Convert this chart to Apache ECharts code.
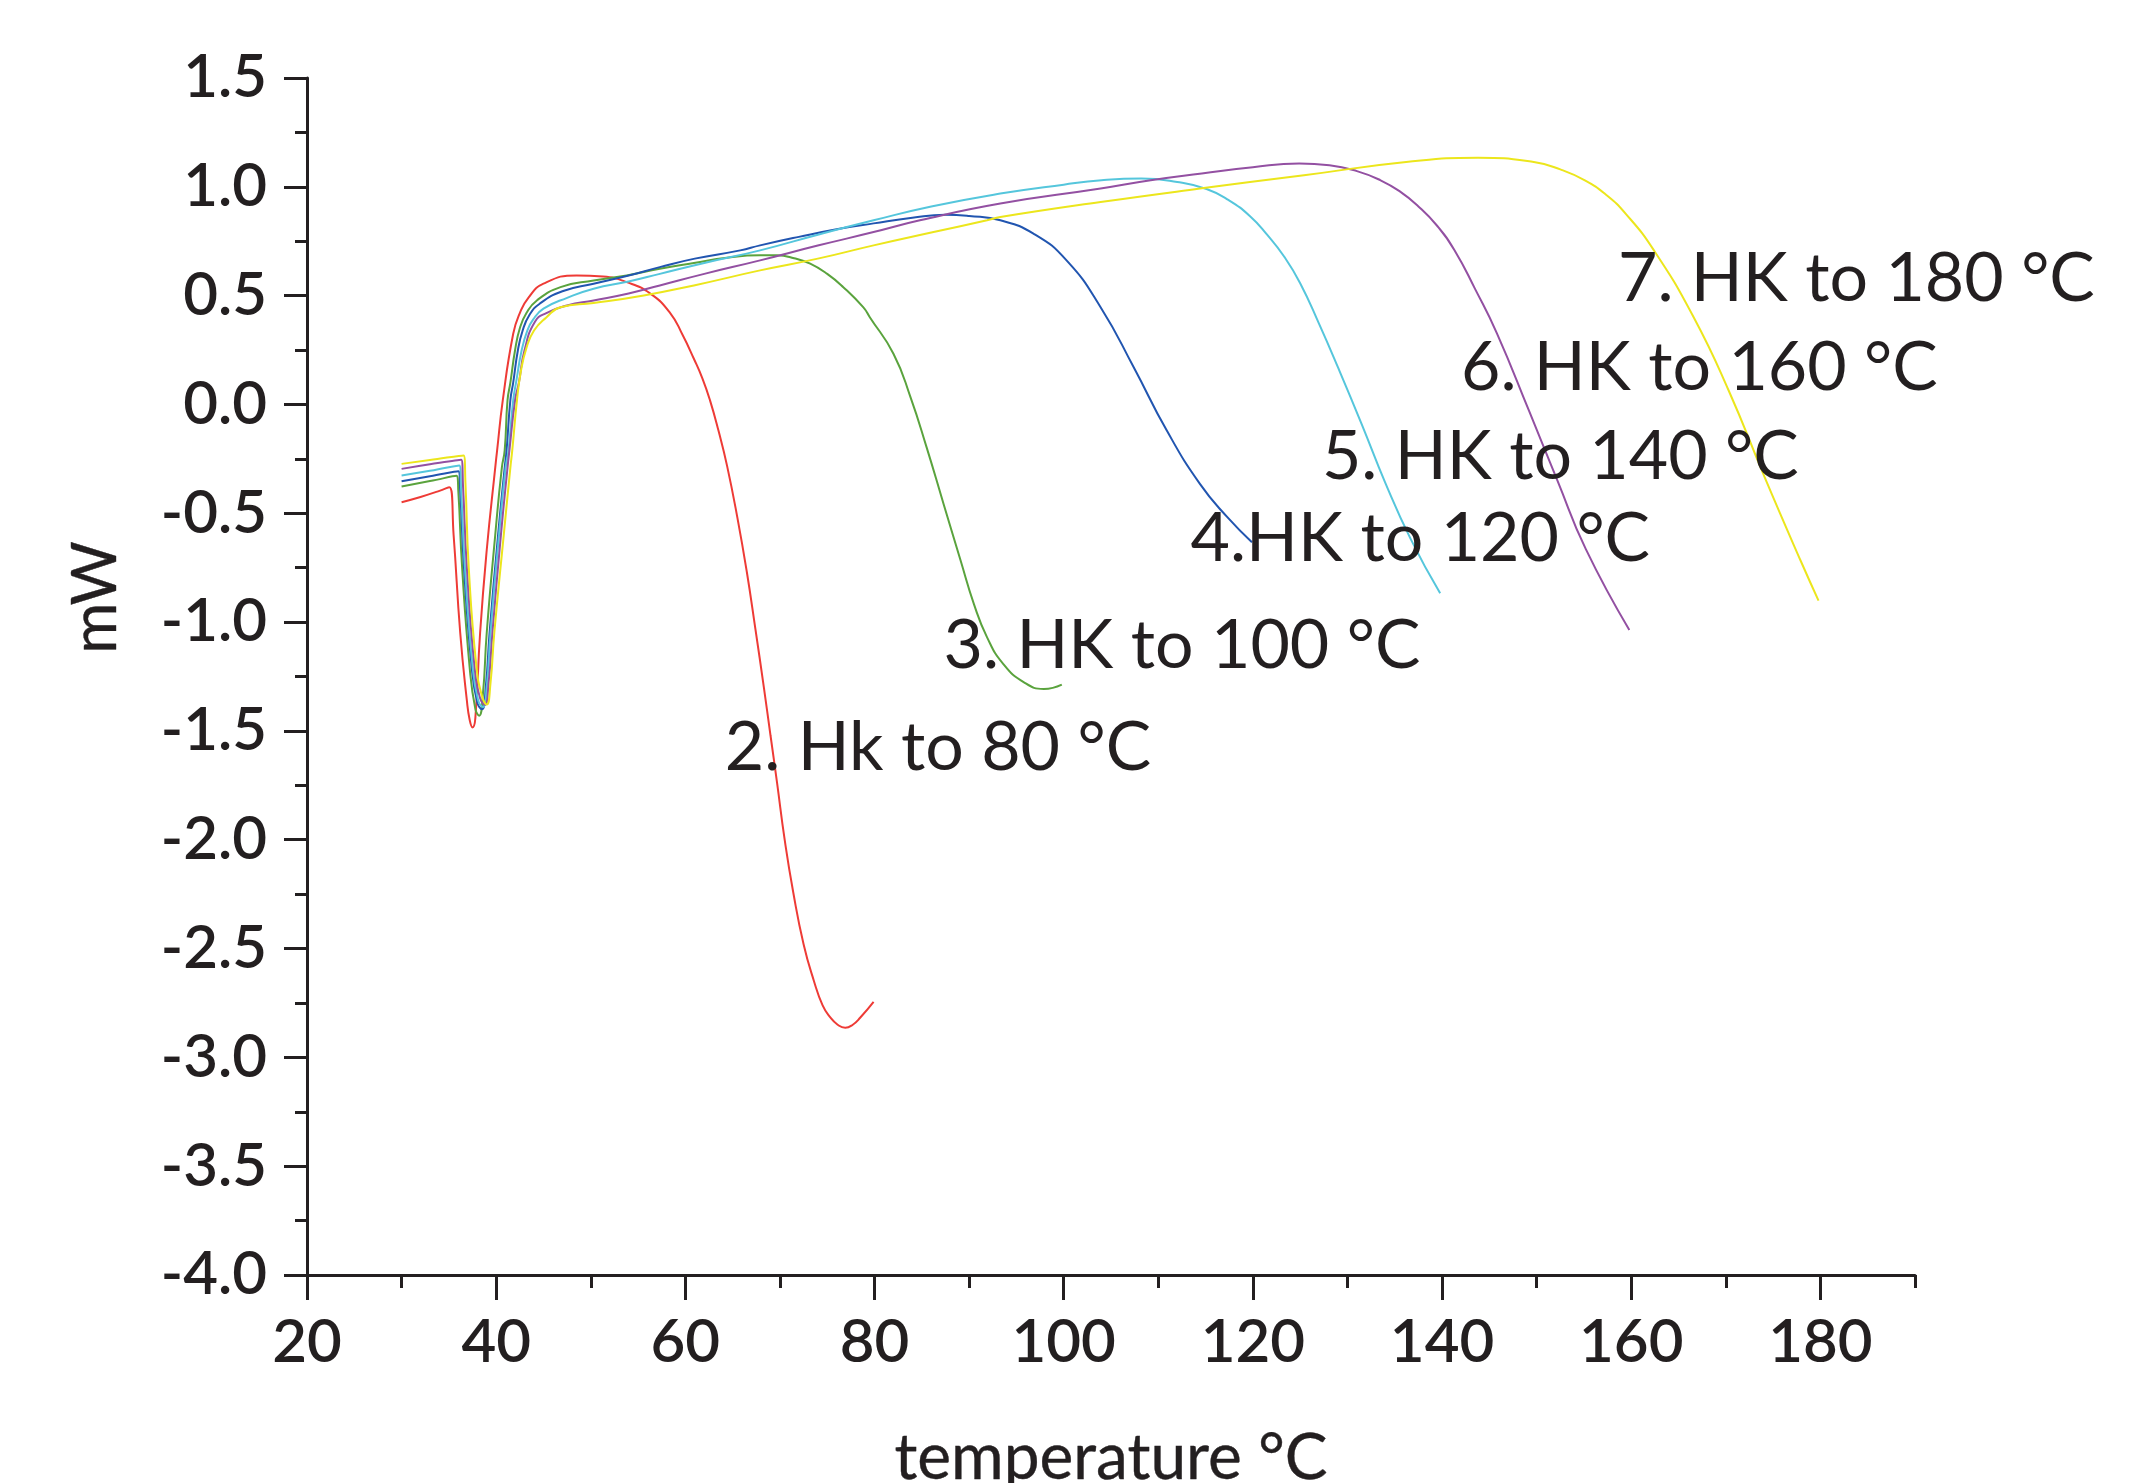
<!DOCTYPE html>
<html><head><meta charset="utf-8">
<script src="https://cdn.jsdelivr.net/npm/echarts@6/dist/echarts.min.js"></script>
<style>html,body{margin:0;padding:0;background:#fff}#c{width:2142px;height:1483px}</style>
</head><body><div id="c"></div>
<script>
// ---- data (temperature °C, mW) ----
const run80 = [[30,-0.449],[32,-0.425],[34,-0.397],[35.05,-0.38],[35.5,-0.6],[36.2,-1.05],[36.9,-1.36],[37.2,-1.45],[37.5,-1.484],[37.8,-1.44],[38.3,-1.05],[39.0,-0.67],[39.9,-0.29],[40.1,-0.211],[40.7,0.02],[41.8,0.325],[42.5,0.42],[43.4,0.49],[45,0.555],[48.5,0.593],[51.3,0.588],[53.8,0.562],[56.3,0.509],[58.4,0.42],[59.7,0.32],[60.9,0.21],[61.8,0.12],[62.6,0.02],[63.5,-0.12],[64.4,-0.28],[65.5,-0.52],[66.5,-0.77],[67.4,-1.03],[68.3,-1.30],[69.0,-1.52],[69.7,-1.74],[70.5,-2.0],[71.4,-2.24],[72.5,-2.48],[73.6,-2.65],[74.5,-2.76],[75.3,-2.815],[76.1,-2.85],[76.9,-2.864],[77.7,-2.85],[78.5,-2.817],[79.9,-2.745]];
const run100 = [[30,-0.377],[33,-0.352],[35.8,-0.328],[36.0,-0.40],[36.4,-0.75],[37.2,-1.21],[37.8,-1.40],[38.2,-1.43],[38.6,-1.33],[39.0,-1.05],[39.9,-0.6],[40.6,-0.29],[40.9,-0.211],[41.2,0.02],[41.5,0.1],[42.0,0.25],[42.5,0.35],[43.2,0.42],[44.3,0.478],[46.8,0.539],[50.3,0.570],[53.8,0.593],[57.3,0.624],[60.9,0.650],[64.4,0.674],[67.9,0.685],[69.7,0.685],[71.5,0.672],[73.2,0.647],[75,0.60],[76.7,0.539],[78.8,0.447],[79.5,0.401],[82.0,0.233],[83.8,0.034],[85.5,-0.196],[87.3,-0.457],[89.1,-0.717],[90.5,-0.916],[91.9,-1.07],[93.6,-1.192],[95.8,-1.277],[97.9,-1.307],[99.8,-1.287]];
const run120 = [[30,-0.353],[33,-0.33],[36.0,-0.307],[36.2,-0.40],[36.6,-0.75],[37.4,-1.2],[38.0,-1.37],[38.5,-1.40],[38.9,-1.30],[39.3,-1.05],[40.2,-0.6],[40.9,-0.29],[41.1,-0.211],[41.5,0.02],[41.8,0.1],[42.3,0.25],[42.8,0.34],[43.5,0.41],[44.6,0.463],[47,0.52],[50.3,0.555],[53.8,0.59],[57.3,0.631],[61,0.67],[65.8,0.708],[67.9,0.731],[72,0.77],[76,0.805],[79.9,0.832],[84,0.858],[87.5,0.872],[90,0.866],[93.3,0.846],[96.8,0.785],[100.3,0.662],[103.9,0.447],[107.4,0.171],[110.9,-0.12],[114.4,-0.365],[117.3,-0.518],[119.9,-0.633]];
const run140 = [[30,-0.326],[33,-0.305],[36.1,-0.280],[36.3,-0.40],[36.7,-0.75],[37.5,-1.2],[38.1,-1.36],[38.6,-1.39],[39.0,-1.30],[39.4,-1.05],[40.3,-0.6],[41.0,-0.29],[41.3,-0.211],[41.8,0.02],[42.1,0.1],[42.7,0.25],[43.3,0.34],[43.9,0.39],[45.0,0.44],[47.5,0.49],[50.3,0.532],[54,0.565],[57.3,0.600],[62,0.65],[67.9,0.708],[74,0.78],[79.9,0.846],[86,0.91],[93.3,0.969],[100,1.01],[104,1.030],[108.2,1.038],[112.0,1.022],[115.1,0.99],[117.4,0.94],[119.7,0.865],[121.5,0.78],[123.3,0.68],[125.0,0.557],[127,0.37],[129,0.17],[131.5,-0.09],[134,-0.36],[136.7,-0.62],[139.8,-0.868]];
const run160 = [[30,-0.296],[33,-0.275],[36.3,-0.254],[36.5,-0.38],[36.9,-0.75],[37.7,-1.2],[38.3,-1.35],[38.8,-1.38],[39.2,-1.28],[39.6,-1.05],[40.5,-0.6],[41.2,-0.29],[41.4,-0.211],[42.0,0.02],[42.4,0.1],[43.0,0.25],[44.1,0.38],[45.3,0.42],[47.5,0.455],[50.3,0.478],[54,0.51],[57.3,0.547],[62,0.6],[67.9,0.662],[74,0.73],[79.9,0.792],[84.8,0.846],[93.3,0.923],[103.9,0.992],[109.2,1.03],[114.6,1.061],[120,1.09],[124.9,1.107],[128.1,1.099],[131,1.072],[133.5,1.03],[135.5,0.98],[137.5,0.91],[139.5,0.82],[141.3,0.71],[143.5,0.53],[145.8,0.327],[149.2,-0.03],[152.2,-0.35],[155.2,-0.665],[159.8,-1.036]];
const run180 = [[30,-0.273],[33,-0.255],[36.55,-0.234],[36.75,-0.36],[37.1,-0.75],[37.9,-1.2],[38.5,-1.34],[39.0,-1.379],[39.4,-1.28],[39.8,-1.05],[40.8,-0.6],[41.5,-0.29],[41.7,-0.211],[42.2,0.02],[42.6,0.15],[43.2,0.26],[44.0,0.34],[45.3,0.40],[46.8,0.447],[50.3,0.466],[55.6,0.501],[60.9,0.547],[67.9,0.616],[74,0.67],[79.9,0.731],[86,0.79],[91.9,0.846],[93.3,0.861],[103.9,0.930],[114.4,0.992],[125.4,1.053],[136.2,1.114],[143.8,1.134],[149.7,1.114],[152.5,1.08],[155.1,1.030],[157.3,0.965],[159.4,0.877],[162.4,0.708],[166.6,0.401],[170.3,0.064],[174.1,-0.334],[177.9,-0.717],[179.8,-0.901]];

const runs = [run80, run100, run120, run140, run160, run180];
const runColors = ['#ee3b36', '#5aa33d', '#2155b0', '#55c6dc', '#9350a2', '#ece61c'];

const annoText = ['2. Hk to 80 °C', '3. HK to 100 °C', '4.HK to 120 °C', '5. HK to 140 °C', '6. HK to 160 °C', '7. HK to 180 °C'];
const annoX = [86.7, 112.5, 137.7, 152.5, 167.2, 183.8];
const annoY = [-1.58, -1.11, -0.62, -0.24, 0.165, 0.577];

const xLabelValues = [20, 40, 60, 80, 100, 120, 140, 160, 180];

// ---- chart ----
const ink = '#231f20';
const chart = echarts.init(document.getElementById('c'), null, {renderer: 'canvas'});
const lineSeries = runs.map((d, i) => ({
  type: 'line', data: d, xAxisIndex: 0, yAxisIndex: 0,
  showSymbol: false, symbol: 'none', smooth: 0.5,
  lineStyle: {color: runColors[i], width: 2}, z: 2
}));
const annoSeries = {
  type: 'scatter', xAxisIndex: 0, yAxisIndex: 0,
  data: annoX.map((x, i) => [x, annoY[i]]),
  symbolSize: 1, itemStyle: {color: 'rgba(255,255,255,0)', opacity: 1},
  label: {show: true, position: 'inside', formatter: p => annoText[p.dataIndex],
    fontFamily: 'Lato', fontSize: 68, fontWeight: 'normal', color: ink, opacity: 1},
  z: 5, silent: true
};
chart.setOption({
  animation: false,
  backgroundColor: '#ffffff',
  textStyle: {fontFamily: 'Lato'},
  grid: {left: 307, right: 227, top: 78, bottom: 208, containLabel: false, outerBoundsMode: 'none'},
  xAxis: [{
    type: 'value', min: 20, max: 190, interval: 10, position: 'bottom',
    axisLine: {show: true, onZero: false, lineStyle: {color: ink, width: 3}},
    axisTick: {show: true, length: 13, lineStyle: {color: ink, width: 3}},
    axisLabel: {show: true, customValues: xLabelValues, fontFamily: 'Lato', fontSize: 60, fontWeight: 600, color: ink, margin: 38},
    splitLine: {show: false},
    name: 'temperature °C', nameLocation: 'middle', nameGap: 151,
    nameTextStyle: {fontFamily: 'Lato', fontSize: 64, fontWeight: 'normal', color: ink, textBorderColor: ink, textBorderWidth: 0.4}
  }, {
    type: 'value', min: 20, max: 190, interval: 10, position: 'bottom',
    axisLine: {show: false, onZero: false},
    axisTick: {show: true, length: 25, customValues: xLabelValues, lineStyle: {color: ink, width: 3}},
    axisLabel: {show: false}, splitLine: {show: false}
  }],
  yAxis: {
    type: 'value', min: -4, max: 1.5, interval: 0.5,
    axisLine: {show: true, onZero: false, lineStyle: {color: ink, width: 3}},
    axisTick: {show: true, length: 23, lineStyle: {color: ink, width: 3}},
    minorTick: {show: true, splitNumber: 2, length: 12, lineStyle: {color: ink, width: 3}},
    splitLine: {show: false}, minorSplitLine: {show: false},
    axisLabel: {fontFamily: 'Lato', fontSize: 60, fontWeight: 600, color: ink, margin: 40, formatter: v => v.toFixed(1)},
    name: 'mW', nameLocation: 'middle', nameGap: 180,
    nameTextStyle: {fontFamily: 'Lato', fontSize: 62, fontWeight: 'normal', color: ink, padding: [0, 0, 0, 158], textBorderColor: ink, textBorderWidth: 0.4}
  },
  series: [...lineSeries, annoSeries]
});
</script>
</body></html>
